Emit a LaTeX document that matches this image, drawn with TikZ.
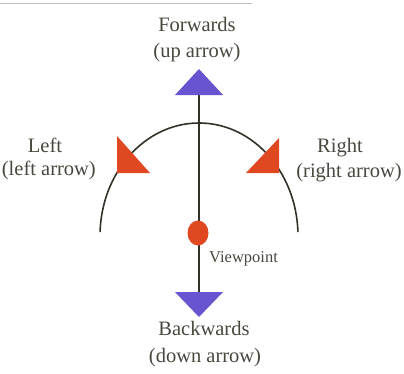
\documentclass[tikz,border=0pt]{standalone}
\usepackage{fontspec}
\setmainfont{Liberation Serif}
\usetikzlibrary{shapes.geometric}
\definecolor{txt}{RGB}{72,72,62}
\definecolor{ln}{RGB}{52,50,40}
\definecolor{redf}{RGB}{224,72,34}
\definecolor{bluef}{RGB}{104,84,208}
\definecolor{rule}{RGB}{190,190,190}
\begin{document}
\begin{tikzpicture}[x=1pt,y=1pt,
  lbl/.style={text=txt,font=\fontsize{20.5}{24}\selectfont,inner sep=0pt},
  small/.style={text=txt,font=\fontsize{16.5}{20}\selectfont,inner sep=0pt},
  wire/.style={draw=ln,line width=1.6pt},
  redtri/.style={fill=redf},
  bluetri/.style={fill=bluef}]
\useasboundingbox (0,0) rectangle (404,373);
\fill[white] (0,0) rectangle (404,373);
\draw[rule,line width=1pt] (0,369) -- (252,369);
% labels
\node[lbl,anchor=base] (fw) at (197,341) {Forwards};
\node[lbl,anchor=base] (fw2) at (197,315) {(up arrow)};
\node[lbl,anchor=base] (lf) at (45,221) {Left};
\node[lbl,anchor=base east] (lf2) at (96,198) {(left arrow)};
\node[lbl,anchor=base] (rt) at (340,221) {Right};
\node[lbl,anchor=base] (rt2) at (349,196) {(right arrow)};
\node[lbl,anchor=base] (bw) at (204,38) {Backwards};
\node[lbl,anchor=base] (bw2) at (205,11) {(down arrow)};
\node[small,anchor=base west] (vl) at (209,111) {Viewpoint};
% geometry
\coordinate (c) at (199,137);
\coordinate (top) at (199,278);
\coordinate (bot) at (199,81);
\draw[wire] (top) -- (bot);
\draw[wire] ([shift={(2:99 and 113)}]c) arc[start angle=2,end angle=178,x radius=99,y radius=113];
% arrowheads
\fill[bluetri] (199,304) -- (175,278) -- (223,278) -- cycle;
\fill[bluetri] (175,81) -- (223,81) -- (199,56) -- cycle;
\fill[redtri] (117,237) -- (117,200) -- (150,200) -- cycle;
\fill[redtri] (279,235) -- (279,200) -- (246,200) -- cycle;
% viewpoint
\node[draw=none,fill=redf,ellipse,minimum width=21pt,minimum height=25pt,inner sep=0pt] (vp) at (198,140) {};
\end{tikzpicture}
\end{document}
